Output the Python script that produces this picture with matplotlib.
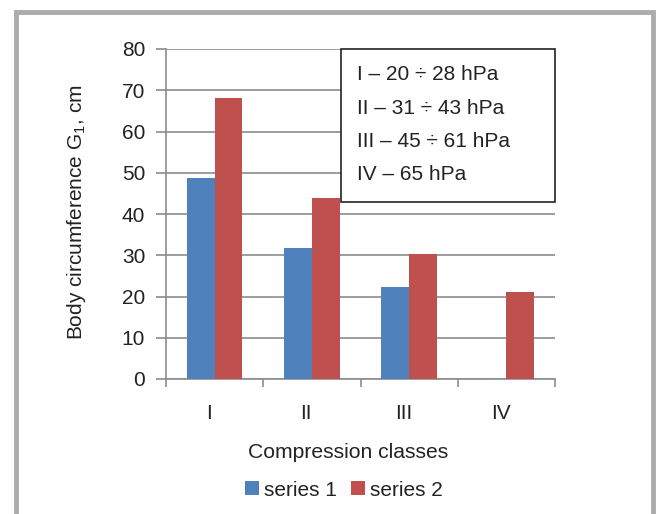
import matplotlib
matplotlib.use("Agg")
import matplotlib.pyplot as plt
import numpy as np
from matplotlib.patches import Rectangle

plt.rcParams['font.family'] = ['Liberation Sans', 'DejaVu Sans']

classes = ['I', 'II', 'III', 'IV']
series1 = [48.8, 31.8, 22.4, np.nan]
series2 = [68.2, 44.0, 30.4, 21.2]
ranges = ['I – 20 ÷ 28 hPa', 'II – 31 ÷ 43 hPa', 'III – 45 ÷ 61 hPa', 'IV – 65 hPa']
yticks = [0, 10, 20, 30, 40, 50, 60, 70, 80]

W, H = 658, 514
fig = plt.figure(figsize=(W / 100, H / 100), dpi=100)

def fx(px):
    return px / W

def fy(py):
    return 1 - py / H

# gray frame around the panel
fig.patches.append(Rectangle((fx(15.5), fy(600)), fx(637.5), fy(12) - fy(600),
                             transform=fig.transFigure, fill=False,
                             edgecolor='#acacac', linewidth=3.5))

ax = fig.add_axes([fx(166), fy(379), fx(555) - fx(166), fy(49) - fy(379)])

grid_c = '#8c8c8c'
txt_c = '#222222'
x = np.arange(len(classes))
w = 0.285
ax.bar(x - w / 2, series1, w, color='#4F81BD', label='series 1', zorder=3)
ax.bar(x + w / 2, series2, w, color='#C0504D', label='series 2', zorder=3)

ax.set_xlim(-0.5, len(classes) - 0.5)
ax.set_ylim(0, 80)
ax.set_yticks(yticks)
ax.yaxis.grid(True, color=grid_c, linewidth=1.2, zorder=0)

ax.set_xticks(np.arange(len(classes) + 1) - 0.5)
ax.set_xticklabels([])
ax.set_xticks(x - 0.06, minor=True)
ax.set_xticklabels(classes, minor=True)
ax.tick_params(axis='x', which='minor', length=0, pad=18, labelsize=15, labelcolor=txt_c)
ax.tick_params(axis='x', which='major', length=6, width=1.2, color=grid_c)
ax.tick_params(axis='y', length=7, width=1.2, color=grid_c, pad=8, labelsize=15, labelcolor=txt_c)

for s in ['top', 'right']:
    ax.spines[s].set_visible(False)
for s in ['left', 'bottom']:
    ax.spines[s].set_color(grid_c)
    ax.spines[s].set_linewidth(1.2)

fig.text(fx(76), fy(212), 'Body circumference G$_\\mathregular{1}$, cm', rotation=90,
         ha='center', va='center', fontsize=15, color=txt_c)
fig.text(fx(348), fy(452), 'Compression classes', ha='center', va='center',
         fontsize=15.2, color=txt_c)

# class pressure ranges box
fig.patches.append(Rectangle((fx(341), fy(202)), fx(555) - fx(341), fy(49) - fy(202),
                             transform=fig.transFigure, facecolor='white',
                             edgecolor=txt_c, linewidth=1.2, zorder=5))
for i, t in enumerate(ranges):
    fig.text(fx(357), fy(75 + i * 33.3), t, ha='left', va='center',
             fontsize=15, color=txt_c, zorder=6)

fig.legend(loc='center', bbox_to_anchor=(fx(344), fy(490)), ncol=2, frameon=False,
           fontsize=15, handlelength=0.65, handleheight=0.65, handletextpad=0.25,
           columnspacing=0.7, labelcolor=txt_c)

fig.savefig('out.png', dpi=100)
